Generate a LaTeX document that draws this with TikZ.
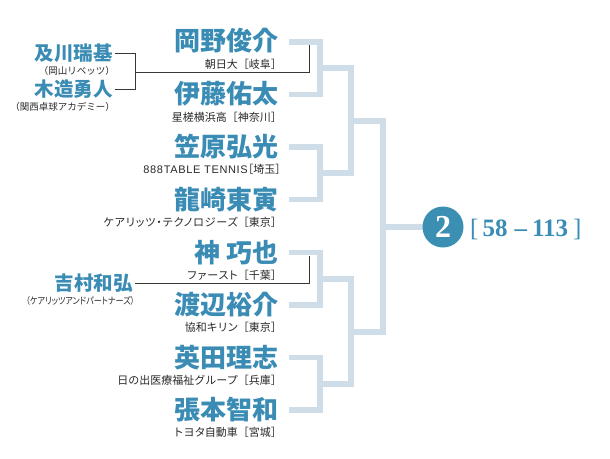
\documentclass[tikz,border=0pt]{standalone}
\usepackage{fontspec}
\newfontfamily\jp{Noto Sans CJK JP}
\newfontfamily\jpp{Noto Sans CJK JP}[RawFeature=+palt]
\newfontfamily\kanafont{Noto Sans CJK JP}[RawFeature=+palt,LetterSpace=8]
\newfontfamily\latsans{Liberation Sans}[LetterSpace=6]
\newfontfamily\tms{Liberation Serif}
\newcommand{\kn}[1]{{\kanafont #1}}
\definecolor{nameblue}{RGB}{58,140,180}
\definecolor{cblue}{RGB}{58,143,178}
\definecolor{linelight}{RGB}{207,221,232}
\definecolor{subgray}{RGB}{40,40,40}
\definecolor{kgray}{RGB}{55,55,55}
\tikzset{
  pname/.style={anchor=east,inner sep=0,text=nameblue,font=\jp\bfseries\fontsize{26}{26}\selectfont},
  psub/.style={anchor=east,inner sep=0,text=subgray,font=\jp\fontsize{11}{11}\selectfont},
  lname/.style={anchor=east,inner sep=0,text=nameblue,font=\jp\bfseries\fontsize{19.5}{20}\selectfont},
  lsub/.style={anchor=east,inner sep=0,text=subgray,font=\jp\fontsize{9.5}{10}\selectfont},
  bline/.style={draw=linelight,line width=5.5pt,line cap=rect,line join=miter},
  kline/.style={draw=kgray,line width=1pt}
}
\begin{document}
\begin{tikzpicture}[x=1pt,y=-1pt]
\useasboundingbox (0,0) rectangle (610,458);
% main players
\node[pname] (p1) at (279,41) {岡野俊介};
\node[psub]  (t1) at (282,64) {朝日大［岐阜］};
\node[pname] (p2) at (279,94) {伊藤佑太};
\node[psub]  (t2) at (282,117) {星槎横浜高［神奈川］};
\node[pname] (p3) at (279,147) {笠原弘光};
\node[psub]  (t3) at (281,169) {{\latsans\fontsize{11}{11}\selectfont 888TABLE TENNIS}{\jpp［埼玉］}};
\node[pname] (p4) at (279,199.5) {龍崎東寅};
\node[psub]  (t4) at (282,222) {\kn{ケアリッツ・テクノロジーズ}［東京］};
\node[pname] (p5) at (279,252.5) {神\hspace{6pt}巧也};
\node[psub]  (t5) at (282,275) {\kn{ファースト}［千葉］};
\node[pname] (p6) at (279,305) {渡辺裕介};
\node[psub]  (t6) at (282,327) {協和\kn{キリン}［東京］};
\node[pname] (p7) at (279,357.5) {英田理志};
\node[psub]  (t7) at (282,380) {日の出医療福祉グループ［兵庫］};
\node[pname] (p8) at (279,410) {張本智和};
\node[psub]  (t8) at (282,432) {\kn{トヨタ}自動車［宮城］};
% left players
\node[lname] (l1) at (113,53) {及川瑞基};
\node[lsub]  (u1) at (115,71) {（岡山リベッツ）};
\node[lname] (l2) at (113,89) {木造勇人};
\node[lsub]  (u2) at (115,107) {（関西卓球アカデミー）};
\node[lname] (l3) at (133,283) {吉村和弘};
\node[lsub]  (u3) at (135,301) {\scalebox{0.85}[1]{\jpp（ケアリッツアンドパートナーズ）}};
% bracket coordinates
\coordinate (s1) at (292,42);
\coordinate (s2) at (292,94.5);
\coordinate (s3) at (292,147);
\coordinate (s4) at (292,199.5);
\coordinate (s5) at (292,252.5);
\coordinate (s6) at (292,305);
\coordinate (s7) at (292,357.5);
\coordinate (s8) at (292,410);
\coordinate (m1) at (351,68);
\coordinate (m2) at (351,173);
\coordinate (m3) at (351,279);
\coordinate (m4) at (351,384);
\coordinate (q1) at (383,121);
\coordinate (q2) at (383,332);
\coordinate (c) at (443,227);
% bracket lines
\draw[bline] (s1) -- ++(28,0) |- (m1);
\draw[bline] (s2) -- ++(28,0) |- (m1);
\draw[bline] (s3) -- ++(28,0) |- (m2);
\draw[bline] (s4) -- ++(28,0) |- (m2);
\draw[bline] (s5) -- ++(28,0) |- (m3);
\draw[bline] (s6) -- ++(28,0) |- (m3);
\draw[bline] (s7) -- ++(28,0) |- (m4);
\draw[bline] (s8) -- ++(28,0) |- (m4);
\draw[bline] (m1) |- (q1);
\draw[bline] (m2) |- (q1);
\draw[bline] (m3) |- (q2);
\draw[bline] (m4) |- (q2);
\draw[bline] (q1) |- (c);
\draw[bline] (q2) |- (c);
\node[circle,fill=cblue,minimum size=41pt,inner sep=0,text=white,font=\tms\bfseries\fontsize{32}{32}\selectfont] (c2) at (c) {2};
% score
\node[anchor=base west,inner sep=0,text=nameblue,font=\tms\bfseries\fontsize{25}{25}\selectfont] (sc) at (470,236)
  {{\mdseries[}\hspace{4pt}58\hspace{7pt}–\hspace{5pt}113\hspace{5pt}{\mdseries]}};
% black lines
\coordinate (k1) at (135,72);
\coordinate (k2) at (309,44.5);
\coordinate (k3) at (309,256);
\draw[kline] ([xshift=2pt]l1.east) -| (k1);
\draw[kline] ([xshift=2pt]l2.east) -| (k1);
\draw[kline] (k1) -| (k2);
\draw[kline] ([xshift=2pt]l3.east) -| (k3);
\end{tikzpicture}
\end{document}
